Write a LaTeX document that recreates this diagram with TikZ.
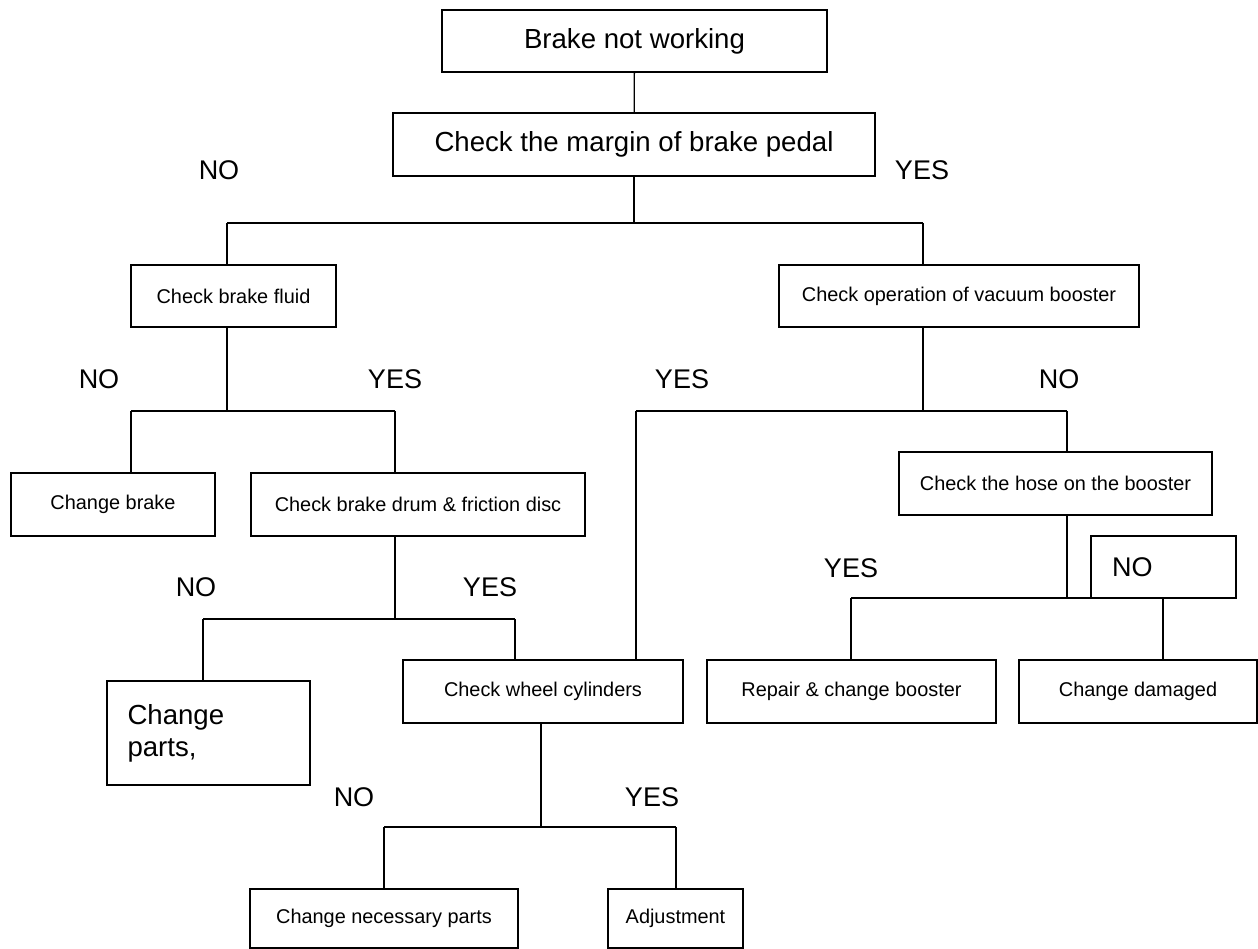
\documentclass[tikz,border=0pt]{standalone}
\usepackage{fontspec}
\setmainfont{Liberation Sans}

\begin{document}
\begin{tikzpicture}[x=1pt, y=-1pt, line width=1.3pt]
                  \tikzstyle{box}=[draw, inner sep=0pt, minimum height=63pt, font=\fontsize{19.9}{24}\selectfont]
                  \tikzstyle{big}=[font=\fontsize{27.6}{32}\selectfont]
                  \tikzstyle{ans}=[font=\fontsize{27}{32}\selectfont]
                  \useasboundingbox (0,0) rectangle (1258,949);

                  % boxes
                  \node[box, big, minimum width=385pt, minimum height=62pt] (brake)  at (634.5,41)   {Brake not working};
                  \node[box, big, minimum width=482pt]                      (margin) at (634,144.5)  {Check the margin of brake pedal};
                  \node[box, minimum width=205pt, minimum height=62pt]      (fluid)  at (233.5,296)  {Check brake fluid};
                  \node[box, minimum width=360pt, minimum height=62pt]      (vacuum) at (959,296)    {Check operation of vacuum booster};
                  \node[box, minimum width=204pt]                           (chbrake) at (113,504.5) {Change brake};
                  \node[box, minimum width=334pt]                           (drum)   at (418,504.5)  {Check brake drum \& friction disc};
                  \node[box, minimum width=313pt]                           (hose)   at (1055.5,483.5) {Check the hose on the booster};
                  \node[box, big, minimum width=203pt, minimum height=104pt, text width=162pt, align=left] (parts) at (208.5,733) {Change\\parts,};
                  \node[box, minimum width=280pt]                           (wheel)  at (543,691.5)  {Check wheel cylinders};
                  \node[box, minimum width=289pt]                           (repair) at (851.5,691.5) {Repair \& change booster};
                  \node[box, minimum width=238pt]                           (damaged) at (1138,691.5) {Change damaged};
                  \node[box, minimum width=268pt, minimum height=59pt]      (necessary) at (384,918.5) {Change necessary parts};
                  \node[box, minimum width=135pt, minimum height=59pt]      (adjust) at (675.5,918.5) {Adjustment};
                  \node[box, ans, minimum width=145pt, minimum height=62pt, text width=103pt, align=left] (nobox) at (1163.5,567) {NO};

                  % answers
                  \node[ans] (no0)  at (219,170)  {NO};
                  \node[ans] (yes0) at (922,170)  {YES};
                  \node[ans] (no1)  at (99,379)   {NO};
                  \node[ans] (yes1) at (395,379)  {YES};
                  \node[ans] (yes2) at (682,379)  {YES};
                  \node[ans] (no2)  at (1059,379) {NO};
                  \node[ans] (no3)  at (196,587)  {NO};
                  \node[ans] (yes3) at (490,587)  {YES};
                  \node[ans] (yes4) at (851,568)  {YES};
                  \node[ans] (no5)  at (354,797)  {NO};
                  \node[ans] (yes5) at (652,797)  {YES};

                  % forks
                  \coordinate (f0) at (634,223);  \coordinate (f0a) at (227,223); \coordinate (f0b) at (923,223);
                  \coordinate (f1) at (227,411);  \coordinate (f1a) at (131,411); \coordinate (f1b) at (395,411);
                  \coordinate (f2) at (923,411);  \coordinate (f2a) at (636,411); \coordinate (f2b) at (1067,411);
                  \coordinate (f3) at (395,619);  \coordinate (f3a) at (203,619); \coordinate (f3b) at (515,619);
                  \coordinate (f4) at (1067,598); \coordinate (f4a) at (851,598); \coordinate (f4b) at (1163,598);
                  \coordinate (f5) at (541,827);  \coordinate (f5a) at (384,827); \coordinate (f5b) at (676,827);

                  \draw (brake) -- (margin);
                  \draw (f0 |- margin.south) -- (f0) (f0a) -- (f0b)
                        (f0a) -- (f0a |- fluid.north) (f0b) -- (f0b |- vacuum.north);
                  \draw (f1 |- fluid.south) -- (f1) (f1a) -- (f1b)
                        (f1a) -- (f1a |- chbrake.north) (f1b) -- (f1b |- drum.north);
                  \draw (f2 |- vacuum.south) -- (f2) (f2a) -- (f2b)
                        (f2a) -- (f2a |- wheel.north) (f2b) -- (f2b |- hose.north);
                  \draw (f3 |- drum.south) -- (f3) (f3a) -- (f3b)
                        (f3a) -- (f3a |- parts.north) (f3b) -- (f3b |- wheel.north);
                  \draw (f4 |- hose.south) -- (f4) (f4a) -- (f4b)
                        (f4a) -- (f4a |- repair.north) (f4b) -- (f4b |- damaged.north);
                  \draw (f5 |- wheel.south) -- (f5) (f5a) -- (f5b)
                        (f5a) -- (f5a |- necessary.north) (f5b) -- (f5b |- adjust.north);
                \end{tikzpicture}
\end{document}
